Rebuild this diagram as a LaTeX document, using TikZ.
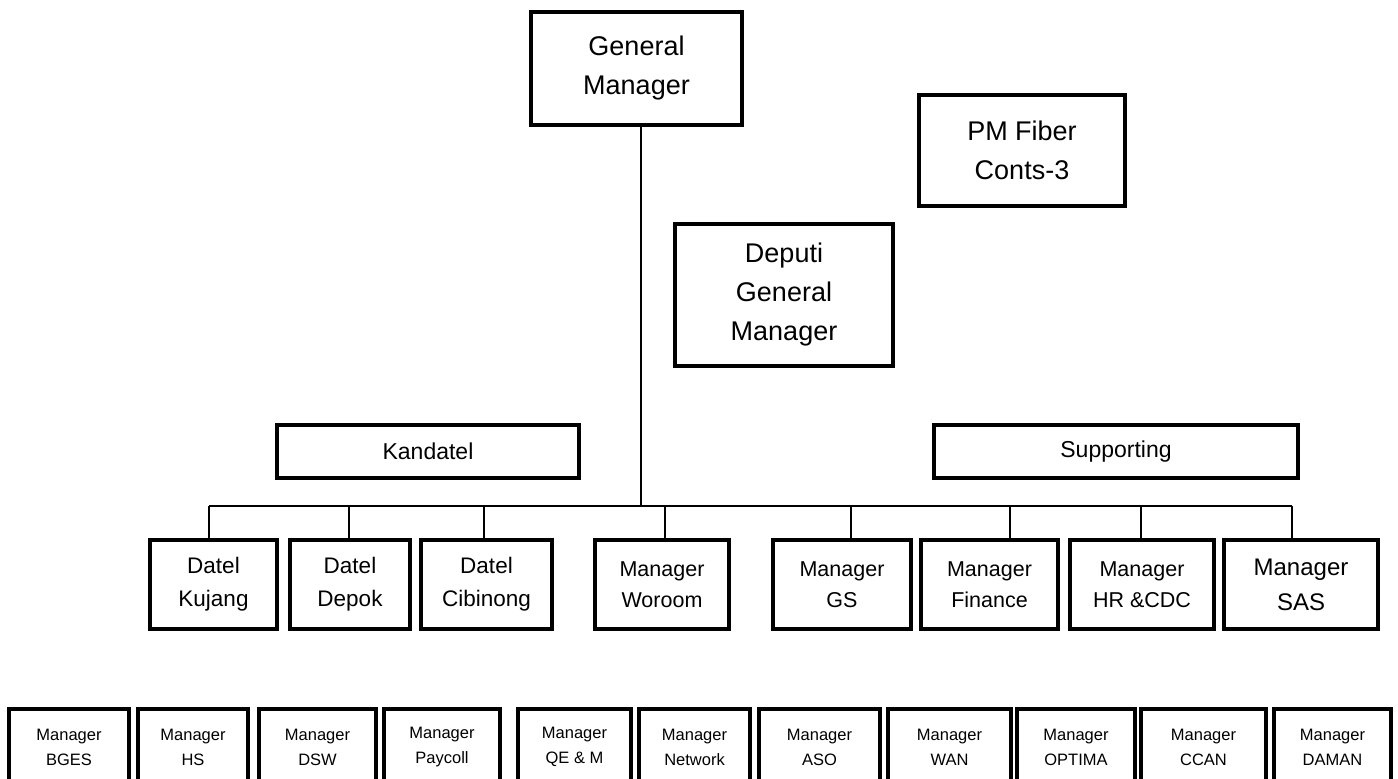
\documentclass[tikz,border=0pt]{standalone}
\usepackage{fontspec}
\setmainfont{Liberation Sans}
\begin{document}
\begin{tikzpicture}[x=1pt,y=-1pt,
  bx/.style={draw, line width=4.5pt, align=center, inner sep=0pt, fill=white},
  fbig/.style={font={\fontsize{27}{39}\selectfont}},
  fmid/.style={font={\fontsize{21.5}{31}\selectfont}},
  fdat/.style={font={\fontsize{22.5}{33}\selectfont}},
  fsas/.style={font={\fontsize{24}{35}\selectfont}},
  fbar/.style={font={\fontsize{23}{28}\selectfont}},
  fsml/.style={font={\fontsize{16.5}{25}\selectfont}},
  conn/.style={draw, line width=2pt}]
\useasboundingbox (0,0) rectangle (1398,779);
\fill[white] (0,0) rectangle (1398,779);
\clip (0,0) rectangle (1398,779);

% top level
\node[bx, fbig, minimum width=211pt, minimum height=113pt] (gm) at (636.5,68.5) {General\\Manager};
\node[bx, fbig, minimum width=206pt, minimum height=111pt] (pm) at (1022,150.5) {PM Fiber\\Conts-3};
\node[bx, fbig, minimum width=218pt, minimum height=142pt] (dgm) at (784,295) {Deputi\\General\\Manager};

% group bars
\node[bx, fbar, minimum width=302pt, minimum height=53pt] (kand) at (428,451.5) {Kandatel};
\node[bx, fbar, minimum width=364pt, minimum height=53pt] (supp) at (1116,451.5) {Supporting};

% second row
\node[bx, fdat, minimum width=127pt, minimum height=89pt] (kuj) at (213.5,584.5) {Datel\\Kujang};
\node[bx, fdat, minimum width=120pt, minimum height=89pt] (dep) at (350,584.5) {Datel\\Depok};
\node[bx, fdat, minimum width=131pt, minimum height=89pt] (cib) at (486.5,584.5) {Datel\\Cibinong};
\node[bx, fmid, minimum width=134pt, minimum height=89pt] (wor) at (662,584.5) {Manager\\Woroom};
\node[bx, fmid, minimum width=138pt, minimum height=89pt] (gs) at (842,584.5) {Manager\\GS};
\node[bx, fmid, minimum width=137pt, minimum height=89pt] (fin) at (989.5,584.5) {Manager\\Finance};
\node[bx, fmid, minimum width=144pt, minimum height=89pt] (hr) at (1142,584.5) {Manager\\HR \&CDC};
\node[bx, fsas, minimum width=154pt, minimum height=89pt] (sas) at (1301,584.5) {Manager\\SAS};

% bottom row
\node[bx, fsml, minimum width=120pt, minimum height=76pt] (bges) at (69,747) {Manager\\BGES};
\node[bx, fsml, minimum width=110pt, minimum height=76pt] (hs) at (193,747) {Manager\\HS};
\node[bx, fsml, minimum width=117pt, minimum height=76pt] (dsw) at (317.5,747) {Manager\\DSW};
\node[bx, fsml, minimum width=116pt, minimum height=76pt] (pay) at (442,747) {Manager\\Paycoll};
\node[bx, fsml, minimum width=113pt, minimum height=76pt] (qem) at (574.5,747) {Manager\\QE \& M};
\node[bx, fsml, minimum width=111pt, minimum height=76pt] (net) at (694.5,747) {Manager\\Network};
\node[bx, fsml, minimum width=121pt, minimum height=76pt] (aso) at (819.5,747) {Manager\\ASO};
\node[bx, fsml, minimum width=123pt, minimum height=76pt] (wan) at (949.5,747) {Manager\\WAN};
\node[bx, fsml, minimum width=118pt, minimum height=76pt] (opt) at (1076,747) {Manager\\OPTIMA};
\node[bx, fsml, minimum width=125pt, minimum height=76pt] (ccan) at (1203.5,747) {Manager\\CCAN};
\node[bx, fsml, minimum width=117pt, minimum height=76pt] (dam) at (1332.5,747) {Manager\\DAMAN};

% connectors
\coordinate (busM) at (641,506);
\coordinate (busL) at (209,506);
\coordinate (busR) at (1292,506);
\coordinate (d2) at (349,506);
\coordinate (d3) at (484,506);
\coordinate (d4) at (665,506);
\coordinate (d5) at (851,506);
\coordinate (d6) at (1010,506);
\coordinate (d7) at (1141,506);

\draw[conn] (gm.south -| busM) -- (busM);
\draw[conn] (busL) -- (busR);
\draw[conn] (busL) -- (busL |- kuj.north);
\draw[conn] (d2) -- (d2 |- dep.north);
\draw[conn] (d3) -- (d3 |- cib.north);
\draw[conn] (d4) -- (d4 |- wor.north);
\draw[conn] (d5) -- (d5 |- gs.north);
\draw[conn] (d6) -- (d6 |- fin.north);
\draw[conn] (d7) -- (d7 |- hr.north);
\draw[conn] (busR) -- (busR |- sas.north);
\end{tikzpicture}
\end{document}
